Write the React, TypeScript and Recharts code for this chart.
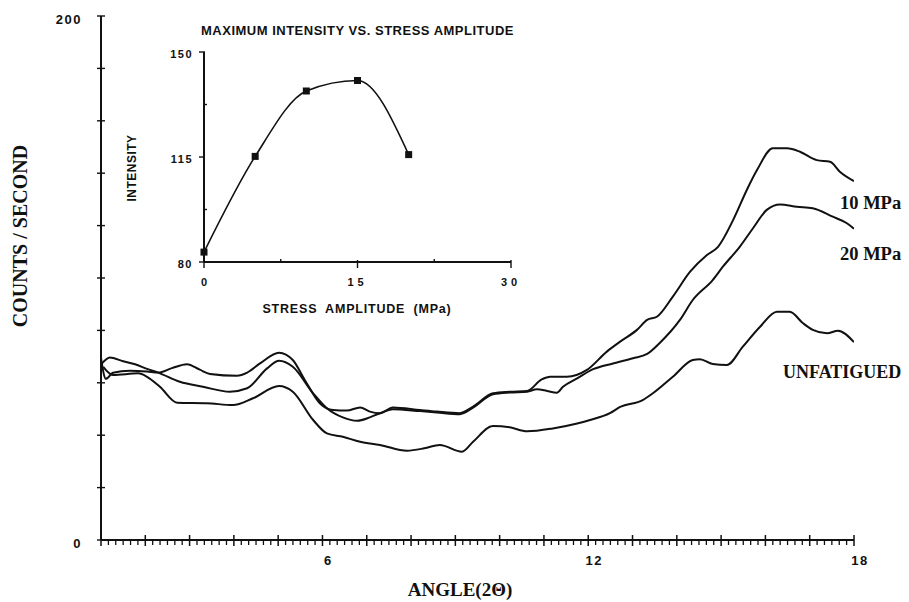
import React from 'react';
import { LineChart, Line, XAxis, YAxis } from 'recharts';

// main chart: counts per second vs. diffraction angle
const angleMajorTicks = [1, 2, 3, 4, 5, 6, 7, 8, 9, 10, 11, 12, 13, 14, 15, 16, 17, 18];
const angleLabels = [6, 12, 18];
const countTicks = [0, 20, 40, 60, 80, 100, 120, 140, 160, 180, 200];
const countLabels = [0, 200];

const tenMpa: [number, number][] = [
  [1.0, 69.5], [1.11, 61.5], [1.27, 63.8], [1.65, 64.6], [2.04, 64.3], [2.29, 63.9], [2.6, 65.6],
  [2.94, 67.1], [3.23, 65.0], [3.46, 63.4], [4.07, 62.7], [4.3, 63.9], [4.59, 67.4], [5.02, 71.5],
  [5.33, 68.7], [5.6, 61.1], [5.94, 52.2], [6.24, 49.6], [6.55, 49.4], [6.85, 50.6], [7.07, 49.0],
  [7.3, 48.4], [7.59, 50.6], [8.2, 49.6], [8.58, 49.0], [9.1, 48.4], [9.4, 50.9], [9.85, 56.0],
  [10.23, 56.6], [10.62, 56.9], [10.95, 61.3], [11.14, 62.3], [11.52, 62.3], [11.97, 64.9],
  [12.42, 71.9], [12.72, 75.7], [13.1, 80.2], [13.33, 84.0], [13.55, 85.2], [13.91, 92.9],
  [14.3, 102.4], [14.68, 108.8], [14.93, 111.9], [15.27, 122.1], [15.58, 133.6], [15.81, 141.2],
  [16.17, 149.5], [16.49, 149.5], [16.78, 148.2], [17.16, 145.0], [17.46, 144.4], [17.68, 140.6],
  [18.0, 137.0],
];

const twentyMpa: [number, number][] = [
  [1.0, 67.0], [1.2, 69.7], [1.5, 68.2], [1.77, 67.1], [2.04, 65.3], [2.29, 63.9], [2.78, 60.4],
  [3.3, 58.5], [3.91, 56.6], [4.3, 57.9], [4.75, 65.5], [5.02, 68.4], [5.33, 66.1], [5.79, 56.0],
  [6.1, 50.3], [6.46, 46.8], [6.78, 45.5], [7.07, 46.8], [7.3, 48.4], [7.59, 49.9], [8.2, 49.2],
  [8.58, 48.7], [9.1, 48.0], [9.4, 50.5], [9.85, 55.6], [10.23, 56.3], [10.62, 56.6], [10.84, 57.5],
  [11.07, 56.9], [11.29, 56.2], [11.43, 58.5], [11.75, 61.7], [12.11, 65.2], [12.56, 67.4],
  [13.01, 69.4], [13.33, 71.0], [13.62, 75.3], [14.07, 84.0], [14.36, 91.6], [14.81, 99.2],
  [15.04, 104.3], [15.42, 111.9], [15.72, 119.0], [16.03, 126.0], [16.33, 128.1], [16.71, 127.2],
  [17.07, 126.6], [17.52, 123.4], [17.84, 120.9], [18.0, 118.8],
];

const unfatigued: [number, number][] = [
  [1.05, 66.1], [1.27, 63.0], [1.84, 63.6], [2.04, 62.3], [2.33, 58.5], [2.72, 52.4], [3.39, 52.2],
  [3.98, 51.5], [4.43, 54.1], [5.02, 58.8], [5.33, 56.6], [5.79, 45.8], [6.1, 40.7], [6.46, 39.4],
  [6.85, 37.5], [7.3, 36.3], [7.91, 34.1], [8.3, 35.0], [8.65, 36.3], [9.15, 33.7], [9.4, 37.5],
  [9.85, 43.5], [10.23, 43.0], [10.62, 41.5], [11.2, 42.6], [11.75, 44.5], [12.04, 45.8],
  [12.49, 48.4], [12.72, 50.8], [13.23, 53.4], [13.46, 56.0], [13.91, 62.3], [14.36, 68.7],
  [14.52, 69.0], [14.81, 67.2], [15.13, 66.8], [15.49, 73.8], [15.88, 81.4], [16.26, 87.1],
  [16.55, 87.1], [16.85, 82.7], [17.07, 80.2], [17.39, 78.9], [17.64, 79.9], [18.0, 75.5],
];

// inset: maximum intensity vs stress amplitude
const stressAmplitude = [0, 5, 10, 15, 20];
const maxIntensity = [83.3, 115.2, 137.0, 140.5, 115.8];
const stressTicks = [0, 7.5, 15, 22.5, 30];
const stressLabels = [0, 15, 30];
const intensityTicks = [80, 97.5, 115, 132.5, 150];
const intensityLabels = [80, 115, 150];

const toPoints = (arr: [number, number][]) => arr.map(([x, y]) => ({ x, y }));

const insetData = stressAmplitude.map((s, i) => ({ s, v: maxIntensity[i] }));

// minor ticks every 1/6 degree between the whole-degree ticks
const angleMinorTicks: number[] = [];
angleMajorTicks.slice(0, -1).forEach((t) => {
  for (let k = 1; k < 6; k++) angleMinorTicks.push(Math.round((t + k / 6) * 1000) / 1000);
});

const INK = '#111';
const SANS = '"Liberation Sans", Arial, sans-serif';
const SERIF = '"Liberation Serif", "Times New Roman", serif';

const AngleTick = (props: any) => {
  const { x, y, payload } = props;
  const v = payload.value;
  const showLabel = angleLabels.includes(v);
  return (
    <g>
      <line x1={x} x2={x} y1={y - 5} y2={y + 6} stroke={INK} strokeWidth={1.5} />
      {showLabel && (
        <text x={x + 6} y={y + 25} textAnchor="middle" fontFamily={SANS} fontWeight="bold" fontSize={13} letterSpacing={1.5} fill={INK}>
          {v}
        </text>
      )}
    </g>
  );
};

const MinorAngleTick = (props: any) => {
  const { x, y } = props;
  return <line x1={x} x2={x} y1={y - 2} y2={y + 4} stroke={INK} strokeWidth={1.3} />;
};

const CountTick = (props: any) => {
  const { x, y, payload } = props;
  const v = payload.value;
  return (
    <g>
      <line x1={x - 4} x2={x + 4} y1={y} y2={y} stroke={INK} strokeWidth={1.4} />
      {countLabels.includes(v) && (
        <text x={x - 19} y={y + 8} textAnchor="end" fontFamily={SANS} fontWeight="bold" fontSize={13} letterSpacing={1.5} fill={INK}>
          {v}
        </text>
      )}
    </g>
  );
};

const StressTick = (props: any) => {
  const { x, y, payload } = props;
  const v = payload.value;
  const major = stressLabels.includes(v);
  return (
    <g>
      <line x1={x} x2={x} y1={major ? y - 2 : y - 3} y2={major ? y + 6 : y} stroke={INK} strokeWidth={1.4} />
      {major && (
        <text x={x} y={y + 24} textAnchor="middle" fontFamily={SANS} fontWeight="bold" fontSize={11} letterSpacing={v === 0 ? 0 : 4} fill={INK}>
          {v}
        </text>
      )}
    </g>
  );
};

const IntensityTick = (props: any) => {
  const { x, y, payload } = props;
  const v = payload.value;
  const major = intensityLabels.includes(v);
  return (
    <g>
      <line x1={major ? x - 5 : x} x2={major ? x + 1 : x + 3} y1={y} y2={y} stroke={INK} strokeWidth={1.4} />
      {major && (
        <text x={x - 11} y={y + 5.5} textAnchor="end" fontFamily={SANS} fontWeight="bold" fontSize={11} letterSpacing={1.5} fill={INK}>
          {v}
        </text>
      )}
    </g>
  );
};

const SquareDot = (props: any) => {
  const { cx, cy, index } = props;
  return <rect key={`sq-${index}`} x={cx - 3.5} y={cy - 3.5} width={7} height={7} fill={INK} />;
};

const layer: React.CSSProperties = { position: 'absolute', left: 0, top: 0 };

export default function App() {
  return (
    <div style={{ position: 'absolute', left: 0, top: 0, width: 909, height: 602, background: '#fff', overflow: 'hidden' }}>
      <div style={layer}>
        <LineChart width={909} height={602} margin={{ top: 16, right: 55, bottom: 60, left: 100 }}>
          <XAxis
            type="number"
            dataKey="x"
            domain={[1, 18]}
            ticks={angleMajorTicks}
            interval={0}
            height={1}
            tickSize={0}
            tickMargin={0}
            tickLine={false}
            tick={<AngleTick />}
            axisLine={{ stroke: INK, strokeWidth: 2 }}
            allowDataOverflow
          />
          <XAxis
            xAxisId="minor"
            type="number"
            dataKey="x"
            domain={[1, 18]}
            ticks={angleMinorTicks}
            interval={0}
            height={1}
            tickSize={0}
            tickMargin={0}
            tickLine={false}
            tick={<MinorAngleTick />}
            axisLine={false}
            allowDataOverflow
          />
          <YAxis
            type="number"
            domain={[0, 200]}
            ticks={countTicks}
            interval={0}
            width={1}
            tickSize={0}
            tickMargin={0}
            tickLine={false}
            tick={<CountTick />}
            axisLine={{ stroke: INK, strokeWidth: 2 }}
          />
          <Line data={toPoints(tenMpa)} dataKey="y" type="monotone" stroke={INK} strokeWidth={2} dot={false} isAnimationActive={false} />
          <Line data={toPoints(twentyMpa)} dataKey="y" type="monotone" stroke={INK} strokeWidth={2} dot={false} isAnimationActive={false} />
          <Line data={toPoints(unfatigued)} dataKey="y" type="monotone" stroke={INK} strokeWidth={2} dot={false} isAnimationActive={false} />
        </LineChart>
      </div>

      <div style={layer}>
        <LineChart width={909} height={602} data={insetData} margin={{ top: 52, right: 398, bottom: 339, left: 203 }}>
          <XAxis
            type="number"
            dataKey="s"
            domain={[0, 30]}
            ticks={stressTicks}
            interval={0}
            height={1}
            tickSize={0}
            tickMargin={0}
            tickLine={false}
            tick={<StressTick />}
            axisLine={{ stroke: INK, strokeWidth: 2 }}
          />
          <YAxis
            type="number"
            domain={[80, 150]}
            ticks={intensityTicks}
            interval={0}
            width={1}
            tickSize={0}
            tickMargin={0}
            tickLine={false}
            tick={<IntensityTick />}
            axisLine={{ stroke: INK, strokeWidth: 2 }}
          />
          <Line dataKey="v" type="monotone" stroke={INK} strokeWidth={1.6} dot={<SquareDot />} isAnimationActive={false} />
        </LineChart>
      </div>

      <svg width={909} height={602} style={{ ...layer, pointerEvents: 'none' }}>
        <text transform="translate(27,236) rotate(-90)" textAnchor="middle" fontFamily={SERIF} fontWeight="bold" fontSize={20} fill={INK}>
          COUNTS / SECOND
        </text>
        <text x={460} y={596} textAnchor="middle" fontFamily={SERIF} fontWeight="bold" fontSize={19} fill={INK}>
          ANGLE(2Θ)
        </text>
        <text x={840} y={209} fontFamily={SERIF} fontWeight="bold" fontSize={18.5} fill={INK}>10 MPa</text>
        <text x={840} y={260} fontFamily={SERIF} fontWeight="bold" fontSize={18.5} fill={INK}>20 MPa</text>
        <text x={783} y={378} fontFamily={SERIF} fontWeight="bold" fontSize={18} fill={INK}>UNFATIGUED</text>

        <text x={201} y={35} fontFamily={SANS} fontWeight="bold" fontSize={13} letterSpacing={0.5} fill={INK}>
          MAXIMUM INTENSITY VS. STRESS AMPLITUDE
        </text>
        <text x={357} y={313} textAnchor="middle" fontFamily={SANS} fontWeight="bold" fontSize={12.5} letterSpacing={0.8} wordSpacing={4} fill={INK}>
          STRESS AMPLITUDE (MPa)
        </text>
        <text transform="translate(136,168) rotate(-90)" textAnchor="middle" fontFamily={SANS} fontWeight="bold" fontSize={12} letterSpacing={0.5} fill={INK}>
          INTENSITY
        </text>
      </svg>
    </div>
  );
}
